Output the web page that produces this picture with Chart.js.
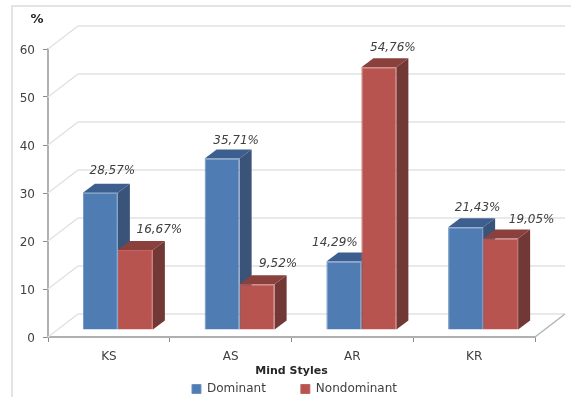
<!DOCTYPE html>
<html>
<head>
<meta charset="utf-8">
<title>Mind Styles</title>
<script src="https://cdn.jsdelivr.net/npm/chart.js@4"></script>
<style>
    html, body { margin: 0; padding: 0; background: #fff; overflow: hidden; }
    #frame { position: absolute; left: 11px; top: 5px; width: 560px; height: 392px; border-top: 2px solid #e4e4e4; border-left: 2px solid #e4e4e4; box-sizing: border-box; }
    #chart { position: absolute; left: 0; top: 0; }
</style>
</head>
<body>
<div id="frame"></div>
<canvas id="chart" width="571" height="397"></canvas>
<script>
const categories = ['KS', 'AS', 'AR', 'KR'];
const dominant = [28.57, 35.71, 14.29, 21.43];
const nondominant = [16.67, 9.52, 54.76, 19.05];
const yTicksMax = 60;
const yTicksStep = 10;

const FONT = '"DejaVu Sans", sans-serif';
const TEXT = '#404040';

// Box depth and where the bars sit inside the floor
const WALL = { dx: 30, dy: -23 };
const BAR_PLANE = { dx: 9, dy: -7 };
const BAR_DEPTH = { dx: 12, dy: -9 };

// Label offsets from the top centre of each box
const labelNudge = [
    [[12, -22], [14, -18], [-9, -19], [12, -19]],
    [[24, -20], [21, -20], [14, -19], [31, -19]]
];

const depthColors = [
    { top: '#3d5f8f', side: '#3a5378' },
    { top: '#8a403d', side: '#713835' }
];

function face(ctx, color, pts) {
    ctx.fillStyle = color;
    ctx.beginPath();
    ctx.moveTo(pts[0][0], pts[0][1]);
    for (let i = 1; i < pts.length; i++) ctx.lineTo(pts[i][0], pts[i][1]);
    ctx.closePath();
    ctx.fill();
}

const wallsAndBoxes = {
    id: 'wallsAndBoxes',

    // legend.labels.padding also adds height, keep the box to one short row
    beforeLayout(chart) {
        const legend = chart.legend;
        if (legend.fitWrapped) return;
        const fit = legend.fit;
        legend.fit = function() {
            fit.call(this);
            this.height = 19;
        };
        legend.fitWrapped = true;
    },

    afterLayout(chart) {
        const legend = chart.legend;
        legend.top = 383 - chart.options.plugins.legend.labels.padding;
        legend.left += 27;
        legend.right += 27;
    },

    beforeDatasetsDraw(chart) {
        const ctx = chart.ctx;
        const y = chart.scales.y;
        const area = chart.chartArea;

        // back wall and left wall grid lines
        ctx.save();
        ctx.strokeStyle = '#e2e2e2';
        ctx.lineWidth = 1.5;
        y.ticks.forEach(t => {
            const py = y.getPixelForValue(t.value);
            ctx.beginPath();
            ctx.moveTo(area.left, py);
            ctx.lineTo(area.left + WALL.dx, py + WALL.dy);
            ctx.lineTo(area.right + WALL.dx, py + WALL.dy);
            ctx.stroke();
        });
        // right edge of the floor
        ctx.strokeStyle = '#b4b4b4';
        ctx.beginPath();
        ctx.moveTo(area.right, area.bottom);
        ctx.lineTo(area.right + WALL.dx, area.bottom + WALL.dy);
        ctx.stroke();
        ctx.restore();

        // everything up to afterDatasetsDraw is pushed back onto the bar plane
        ctx.save();
        ctx.translate(BAR_PLANE.dx, BAR_PLANE.dy);
        chart.data.datasets.forEach((ds, i) => {
            chart.getDatasetMeta(i).data.forEach(bar => {
                const p = bar.getProps(['x', 'y', 'base', 'width'], true);
                const l = p.x - p.width / 2;
                const r = p.x + p.width / 2;
                const d = BAR_DEPTH;
                face(ctx, depthColors[i].side, [[r, p.y], [r + d.dx, p.y + d.dy], [r + d.dx, p.base + d.dy], [r, p.base]]);
                face(ctx, depthColors[i].top, [[l, p.y], [l + d.dx, p.y + d.dy], [r + d.dx, p.y + d.dy], [r, p.y]]);
            });
        });
    },

    afterDatasetsDraw(chart) {
        const ctx = chart.ctx;
        ctx.restore();

        // value labels
        ctx.save();
        ctx.font = 'italic 12px ' + FONT;
        ctx.fillStyle = TEXT;
        ctx.textAlign = 'center';
        ctx.textBaseline = 'middle';
        chart.data.datasets.forEach((ds, i) => {
            chart.getDatasetMeta(i).data.forEach((bar, j) => {
                const p = bar.getProps(['x', 'y'], true);
                const text = ds.data[j].toFixed(2).replace('.', ',') + '%';
                ctx.fillText(text, p.x + BAR_PLANE.dx + labelNudge[i][j][0], p.y + BAR_PLANE.dy + labelNudge[i][j][1]);
            });
        });

        // unit above the value axis
        ctx.font = 'bold 13px ' + FONT;
        ctx.fillStyle = '#262626';
        ctx.fillText('%', 37, 20);
        ctx.restore();
    }
};

new Chart(document.getElementById('chart'), {
    type: 'bar',
    plugins: [wallsAndBoxes],
    data: {
        labels: categories,
        datasets: [
            { label: 'Dominant', data: dominant, backgroundColor: '#4f7cb3', borderColor: '#6c93c4', borderWidth: 1 },
            { label: 'Nondominant', data: nondominant, backgroundColor: '#b85450', borderColor: '#c4635f', borderWidth: 1 }
        ]
    },
    options: {
        responsive: false,
        animation: false,
        layout: { padding: { top: 49, right: 36, left: 0, bottom: 0 } },
        datasets: { bar: { barPercentage: 1, categoryPercentage: 0.575, clip: false } },
        plugins: {
            tooltip: { enabled: false },
            legend: {
                position: 'bottom',
                labels: {
                    boxWidth: 9,
                    boxHeight: 9,
                    padding: 35,
                    color: TEXT,
                    font: { family: FONT, size: 12 }
                }
            }
        },
        scales: {
            x: {
                afterFit(scale) { scale.height = 41; },
                border: { color: '#b0b0b0', width: 2 },
                grid: { drawOnChartArea: false, drawTicks: true, tickLength: 5, color: '#8c8c8c' },
                ticks: { color: TEXT, padding: 8, maxRotation: 0, font: { family: FONT, size: 12 } },
                title: { display: true, text: 'Mind Styles', color: '#262626', padding: 0, font: { family: FONT, size: 11, weight: 'bold' } }
            },
            y: {
                min: 0,
                max: yTicksMax,
                afterFit(scale) { scale.width = 48; },
                border: { color: '#b0b0b0', width: 2 },
                grid: { drawOnChartArea: false, drawTicks: true, tickLength: 5, color: '#8c8c8c' },
                ticks: { stepSize: yTicksStep, color: TEXT, padding: 8, labelOffset: 2, font: { family: FONT, size: 12 } }
            }
        }
    }
});
</script>
</body>
</html>
